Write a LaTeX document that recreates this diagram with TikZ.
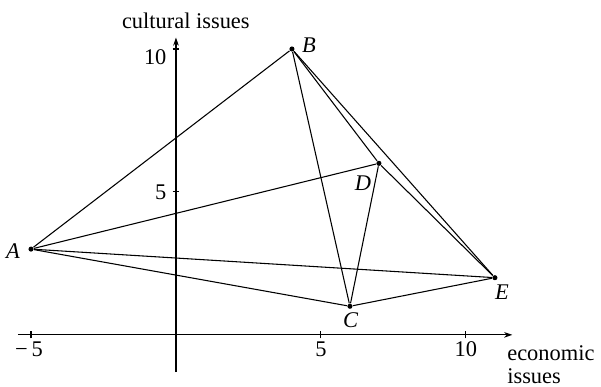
\documentclass[tikz,border=0pt]{standalone}
\usepackage{fontspec}
\setmainfont{Liberation Serif}
\usetikzlibrary{arrows.meta, positioning, calc}

\begin{document}
\begin{tikzpicture}[x=1cm, y=0.986cm, line width=1.05pt,
  lbl/.style={font=\fontsize{22}{22.5}\selectfont, inner sep=0pt},
  pt/.style={circle, fill=black, inner sep=0pt, minimum size=5pt},
  axis/.style={-{Stealth[length=8pt,width=5.5pt]}}]
  \useasboundingbox (-6.07cm,-1.79cm) rectangle (14.66cm,11.55cm);
  % axes
  \coordinate (xs) at (-5.45,0);
  \coordinate (xe) at (11.6,0);
  \coordinate (ys) at (0,-1.3);
  \coordinate (ye) at (0,10.4);
  \draw[axis] (xs) -- (xe);
  \draw[axis] (ys) -- (ye);
  \foreach \t in {-5,5,10} \draw (\t,-0.12) -- (\t,0.12);
  \foreach \t in {5,10} \draw (-0.12,\t) -- (0.12,\t);
  \node[lbl] (xm5) at (-5.07,-0.49) {−\,5};
  \node[lbl] (x5) at (5,-0.49) {5};
  \node[lbl] (x10) at (10,-0.49) {10};
  \node[lbl, anchor=east] (y5) at (-0.31,5) {5};
  \node[lbl, anchor=east] (y10) at (-0.31,9.72) {10};
  \node[lbl] (ylab) at (0.34,10.99) {cultural issues};
  \node[lbl, anchor=north west, align=left] (xlab) at (11.41,-0.35) {economic\\issues};
  % points
  \node[pt] (A) at (-5,3) {};
  \node[pt] (B) at (4,10) {};
  \node[pt] (C) at (6,1) {};
  \node[pt] (D) at (7,6) {};
  \node[pt] (E) at (11,2) {};
  \node[lbl] (Alab) at ($(A)+(-0.62,-0.07)$) {\textit{A}};
  \node[lbl] (Blab) at ($(B)+(0.59,0.14)$) {\textit{B}};
  \node[lbl] (Clab) at ($(C)+(0.03,-0.49)$) {\textit{C}};
  \node[lbl] (Dlab) at ($(D)+(-0.55,-0.70)$) {\textit{D}};
  \node[lbl] (Elab) at ($(E)+(0.24,-0.52)$) {\textit{E}};
  % edges
  \draw (A) -- (B);
  \draw (A) -- (D);
  \draw (A) -- (E);
  \draw (A) -- (C);
  \draw (B) -- (C);
  \draw (B) -- (D);
  \draw (B) -- (E);
  \draw (D) -- (C);
  \draw (D) -- (E);
  \draw (C) -- (E);
\end{tikzpicture}
\end{document}
